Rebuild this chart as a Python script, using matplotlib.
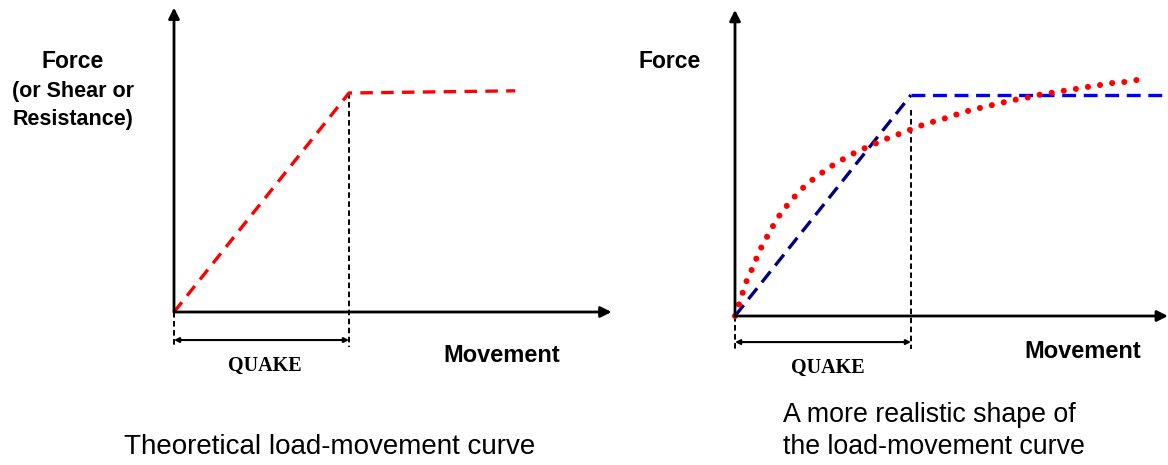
import matplotlib
matplotlib.use("Agg")
import matplotlib.pyplot as plt

# --- data (schematic units: quake = 1 movement unit, yield force = 1 force unit) ---
quake = 1.0
yield_force = 1.0

# left panel: theoretical elastic-plastic curve
theory_x = [0.0, quake, 1.95]
theory_y = [0.0, yield_force, 1.01]

# right panel: idealised curve (elastic part + plastic plateau)
ideal_x = [0.0, quake]
ideal_y = [0.0, yield_force]
plateau_x = [quake, 2.46]
plateau_y = [yield_force, yield_force]

real_x = [0.0, 0.023, 0.045, 0.068, 0.097, 0.125, 0.153, 0.188, 0.222, 0.261,
          0.307, 0.352, 0.403, 0.460, 0.517, 0.574, 0.636, 0.699, 0.767, 0.830,
          0.898, 0.966, 1.034, 1.097, 1.165, 1.233, 1.301, 1.369, 1.438, 1.511,
          1.580, 1.648, 1.722, 1.790, 1.858, 1.932, 2.000, 2.074, 2.142, 2.216,
          2.284]
real_y = [0.0, 0.054, 0.109, 0.163, 0.213, 0.267, 0.317, 0.367, 0.416, 0.466,
          0.511, 0.552, 0.593, 0.629, 0.661, 0.692, 0.719, 0.747, 0.769, 0.792,
          0.814, 0.833, 0.855, 0.873, 0.887, 0.905, 0.923, 0.937, 0.950, 0.964,
          0.977, 0.986, 1.000, 1.009, 1.018, 1.027, 1.036, 1.045, 1.054, 1.059,
          1.068]

left_ylabel = ["Force", "(or Shear or", "Resistance)"]
right_ylabel = ["Force"]
xlabel = "Movement"
quake_label = "QUAKE"
left_caption = "Theoretical load-movement curve"
right_caption = ["A more realistic shape of", "the load-movement curve"]

# --- figure ---
W, H = 1168, 465
plt.rcParams["lines.scale_dashes"] = False
fig = plt.figure(figsize=(W / 100, H / 100), dpi=100)
fig.patch.set_facecolor("white")


def make_axes(origin_px, scale_px, xlim, ylim):
    # place an axes so that data (0,0) lands on origin_px (pixels from top-left)
    ox, oy = origin_px
    sx, sy = scale_px
    left = ox + sx * xlim[0]
    right = ox + sx * xlim[1]
    top = oy - sy * ylim[1]
    bottom = oy - sy * ylim[0]
    ax = fig.add_axes([left / W, 1 - bottom / H, (right - left) / W, (bottom - top) / H])
    ax.set_xlim(*xlim)
    ax.set_ylim(*ylim)
    ax.axis("off")
    return ax


def draw_frame(ax, x_end, y_end, dim_y, guide_top):
    arrow = dict(arrowstyle="-|>", lw=2.0, color="black", mutation_scale=16,
                 shrinkA=0, shrinkB=0)
    ax.annotate("", xy=(x_end, 0), xytext=(0, 0), arrowprops=arrow, annotation_clip=False)
    ax.annotate("", xy=(0, y_end), xytext=(0, 0), arrowprops=arrow, annotation_clip=False)
    guide = dict(color="black", lw=1.4, dashes=(4, 2.5), clip_on=False)
    ax.plot([0, 0], [0, dim_y - 0.03], **guide)
    ax.plot([quake, quake], [guide_top, dim_y - 0.03], **guide)
    ax.annotate("", xy=(quake, dim_y), xytext=(0, dim_y),
                arrowprops=dict(arrowstyle="<|-|>", lw=1.5, color="black",
                                mutation_scale=7, shrinkA=0, shrinkB=0),
                annotation_clip=False)


# left panel
axl = make_axes((174, 312), (175, 219), (-1.0, 2.6), (-0.75, 1.45))
draw_frame(axl, 2.5, 1.39, -0.128, yield_force)
axl.plot(theory_x, theory_y, color="#ff0000", lw=2.4, dashes=(9, 6), clip_on=False)

# right panel
axr = make_axes((735, 316), (176, 221), (-0.5, 2.5), (-0.75, 1.45))
draw_frame(axr, 2.46, 1.385, -0.118, 0.93)
axr.plot(ideal_x, ideal_y, color="#000080", lw=2.4, dashes=(10, 5.5), clip_on=False)
axr.plot(plateau_x, plateau_y, color="#0000ff", lw=2.4, dashes=(10, 5.5), clip_on=False)
axr.plot(real_x, real_y, color="#ff0000", lw=4.4, dashes=(0.01, 8.8),
         dash_capstyle="round", solid_capstyle="round", clip_on=False)

# --- text ---
def px(x, y):
    return x / W, 1 - y / H


bold = dict(family="Liberation Sans", weight="bold", ha="center", va="center")
for i, line in enumerate(left_ylabel):
    fig.text(*px(73, 62 + 29 * i), line, fontsize=16.5 if i == 0 else 15.5, **bold)
fig.text(*px(670, 62), right_ylabel[0], fontsize=16.5, **bold)

fig.text(*px(502, 355), xlabel, fontsize=17, **bold)
fig.text(*px(1083, 351), xlabel, fontsize=17, **bold)

qk = dict(family="Liberation Serif", weight="bold", fontsize=14.5, ha="center", va="center")
fig.text(*px(265, 366), quake_label, **qk)
fig.text(*px(828, 368), quake_label, **qk)

cap = dict(family="Liberation Sans", va="center")
fig.text(*px(330, 447), left_caption, ha="center", fontsize=20, **cap)
fig.text(*px(783, 415), right_caption[0], ha="left", fontsize=19.3, **cap)
fig.text(*px(783, 447), right_caption[1], ha="left", fontsize=19.3, **cap)

fig.savefig("out.png", dpi=100, facecolor="white")
